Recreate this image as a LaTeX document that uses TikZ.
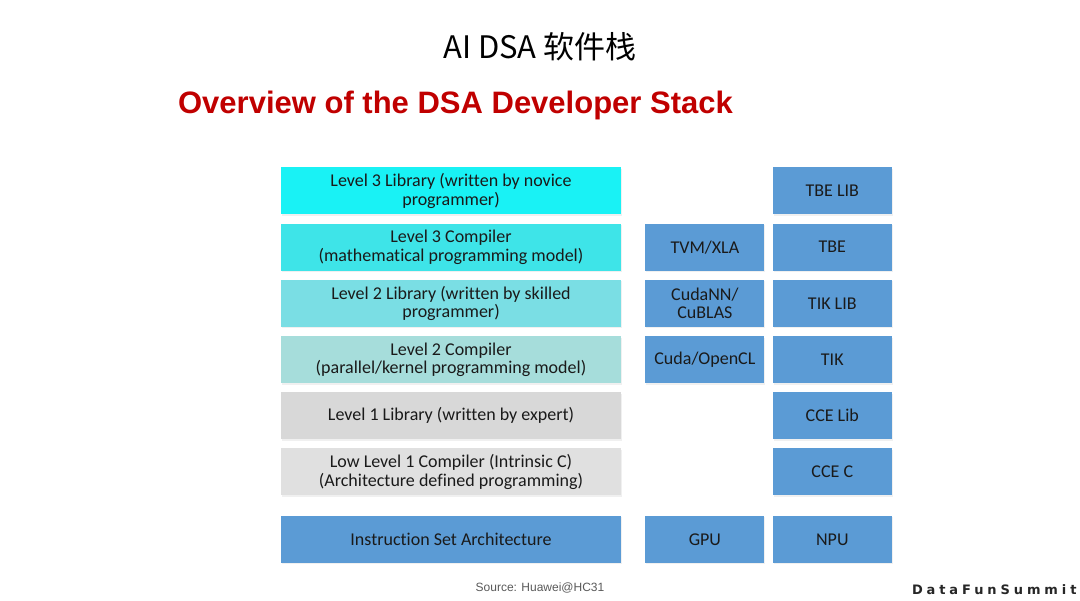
\documentclass[tikz,border=0pt]{standalone}
\usepackage{fontspec}
\setmainfont[Ligatures=CommonOff]{Carlito}
\newfontfamily\cjkfont{Noto Sans CJK SC}
\newfontfamily\arialfont{Liberation Sans}
\newfontfamily\markfont[LetterSpace=30]{DejaVu Sans}
\usepackage{tikz}
\usetikzlibrary{positioning,shadows}
\definecolor{lvlA}{RGB}{25,242,245}
\definecolor{lvlB}{RGB}{62,228,232}
\definecolor{lvlC}{RGB}{122,222,228}
\definecolor{lvlD}{RGB}{166,221,219}
\definecolor{lvlE}{RGB}{216,216,216}
\definecolor{lvlF}{RGB}{224,224,224}
\definecolor{hwblue}{RGB}{91,155,213}
\definecolor{titlered}{RGB}{192,0,0}
\definecolor{boxtext}{RGB}{26,26,26}

\begin{document}
\begin{tikzpicture}[x=1pt, y=1pt, node distance=8.8pt and 8pt,
	layer/.style={minimum width=340pt, minimum height=47pt, inner sep=0pt, align=center,
		text=boxtext, font=\fontsize{18}{18.4}\selectfont,
		drop shadow={opacity=0.12, shadow xshift=1pt, shadow yshift=-1.5pt}},
	impl/.style={layer, minimum width=119pt, fill=hwblue}]
		\useasboundingbox (0,0) rectangle (1080,601) ;
		% Titles
		\node (Title) at (540,554) {\cjkfont\fontsize{31}{36}\selectfont AI DSA 软件栈} ;
		\node[text=titlered] (Overview) at (455.5,495.5) {\arialfont\bfseries\fontsize{31}{36}\selectfont Overview of the DSA Developer Stack} ;
		% Left
		\node[layer, fill=lvlA] (L3Lib) at (451,410) {Level 3 Library (written by novice\\programmer)} ;
		\node[layer, fill=lvlB, below=of L3Lib] (L3Comp) {Level 3 Compiler\\(mathematical programming model)} ;
		\node[layer, fill=lvlC, below=of L3Comp] (L2Lib) {Level 2 Library (written by skilled\\programmer)} ;
		\node[layer, fill=lvlD, below=of L2Lib] (L2Comp) {Level 2 Compiler\\(parallel/kernel programming model)} ;
		\node[layer, fill=lvlE, below=of L2Comp] (L1Lib) {Level 1 Library (written by expert)} ;
		\node[layer, fill=lvlF, below=of L1Lib] (L1Comp) {Low Level 1 Compiler (Intrinsic C)\\(Architecture defined programming)} ;
		\node[layer, fill=hwblue, below=20pt of L1Comp] (ISA) {Instruction Set Architecture} ;
		% Middle
		\node[impl, right=24pt of L3Comp] (TVM) {TVM/XLA} ;
		\node[impl, right=24pt of L2Lib] (CudaNN) {CudaNN/\\CuBLAS} ;
		\node[impl, right=24pt of L2Comp] (Cuda) {Cuda/OpenCL} ;
		\node[impl, right=24pt of ISA] (GPU) {GPU} ;
		% Right
		\node[impl, right=of TVM] (TBE) {TBE} ;
		\node[impl, above=of TBE] (TBELib) {TBE LIB} ;
		\node[impl, right=of CudaNN] (TIKLib) {TIK LIB} ;
		\node[impl, right=of Cuda] (TIK) {TIK} ;
		\node[impl, below=of TIK] (CCELib) {CCE Lib} ;
		\node[impl, below=of CCELib] (CCEC) {CCE C} ;
		\node[impl, right=of GPU] (NPU) {NPU} ;
		% Footer
		\node[text=black!65] (Source) at (540,13) {\arialfont\fontsize{12}{14}\selectfont Source: Huawei@HC31} ;
		\node[text=black!85, anchor=east] (Mark) at (1080,11) {\markfont\bfseries\fontsize{13}{15}\selectfont DataFunSummit} ;
	\end{tikzpicture}
\end{document}
